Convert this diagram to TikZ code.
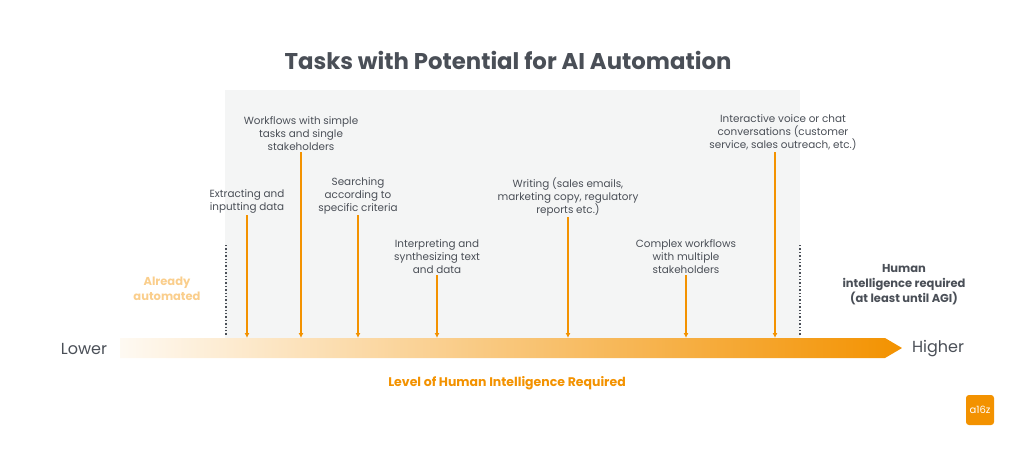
\documentclass[tikz,border=0pt]{standalone}
\usepackage{fontspec}
\setmainfont{Poppins}
\usetikzlibrary{positioning,arrows.meta}
\definecolor{azorange}{HTML}{F39200}
\definecolor{azgrey}{HTML}{4A4F57}
\definecolor{azpanel}{HTML}{F4F5F5}
\tikzset{
  task/.style={align=center, font=\fontsize{10.4}{13}\selectfont, text=azgrey, inner sep=1pt},
  pointer/.style={azorange, line width=1.1pt, -{Latex[length=5pt,width=5pt]}},
  edge/.style={azgrey, dotted, line width=1.4pt}
}
\begin{document}
\begin{tikzpicture}[x=1pt,y=-1pt]
\useasboundingbox (0,0) rectangle (1024,456);

% ======================================
% PANEL AND TITLE
% ======================================
\fill[azpanel] (225,90) rectangle (800,338);
\node[font=\bfseries\fontsize{22.8}{26}\selectfont, text=azgrey] (title) at (508,60) {Tasks with Potential for AI Automation};

% ======================================
% THE SCALE
% ======================================
\shade[left color=azorange!5, right color=azorange] (120,338) -- (885,338) -- (902,348) -- (885,358) -- (120,358) -- cycle;
\node[font=\fontsize{16}{18}\selectfont, text=azgrey] (lower) at (84,349) {Lower};
\node[font=\fontsize{16}{18}\selectfont, text=azgrey] (higher) at (938,349) {Higher};
\node[font=\bfseries\fontsize{12.5}{15}\selectfont, text=azorange] (axis) at (507,383) {Level of Human Intelligence Required};

% ======================================
% BOUNDARIES
% ======================================
\coordinate (lefttop) at (226,245);
\coordinate (leftbot) at (226,336);
\coordinate (righttop) at (800,245);
\coordinate (rightbot) at (800,336);
\draw[edge] (lefttop) -- (leftbot);
\draw[edge] (righttop) -- (rightbot);
\node[task, font=\bfseries\fontsize{11.5}{15}\selectfont, text=azorange!45] (auto) at (167,289) {Already\\automated};
\node[task, font=\bfseries\fontsize{11.5}{15}\selectfont, text=azgrey] (human) at (904,285) {Human\\intelligence required\\(at least until AGI)};

% ======================================
% TASKS
% ======================================
\node[task, anchor=south] (extract) at (247,215) {Extracting and\\inputting data};
\node[task, anchor=south] (workflow) at (301,152) {Workflows with simple\\tasks and single\\stakeholders};
\node[task, anchor=south] (search) at (358,215) {Searching\\according to\\specific criteria};
\node[task, anchor=south] (interp) at (437,275) {Interpreting and\\synthesizing text\\and data};
\node[task, anchor=south] (writing) at (568,217) {Writing (sales emails,\\marketing copy, regulatory\\reports etc.)};
\node[task, anchor=south] (complex) at (686,275) {Complex workflows\\with multiple\\stakeholders};
\node[task, anchor=south] (voice) at (783,152) {Interactive voice or chat\\conversations (customer\\service, sales outreach, etc.)};

\foreach \n/\x in {extract/247, workflow/301, search/358, interp/437, writing/568, complex/686, voice/775} {
  \coordinate (\n-end) at (\x,338);
  \draw[pointer] (\n.south -| \n-end) -- (\n-end);
}

% ======================================
% LOGO
% ======================================
\node[fill=azorange, rounded corners=3pt, text=white, font=\fontsize{10}{12}\selectfont, minimum width=28pt, minimum height=30pt, inner sep=0pt, text depth=-9pt] (logo) at (980,410) {a16z};
\end{tikzpicture}
\end{document}
